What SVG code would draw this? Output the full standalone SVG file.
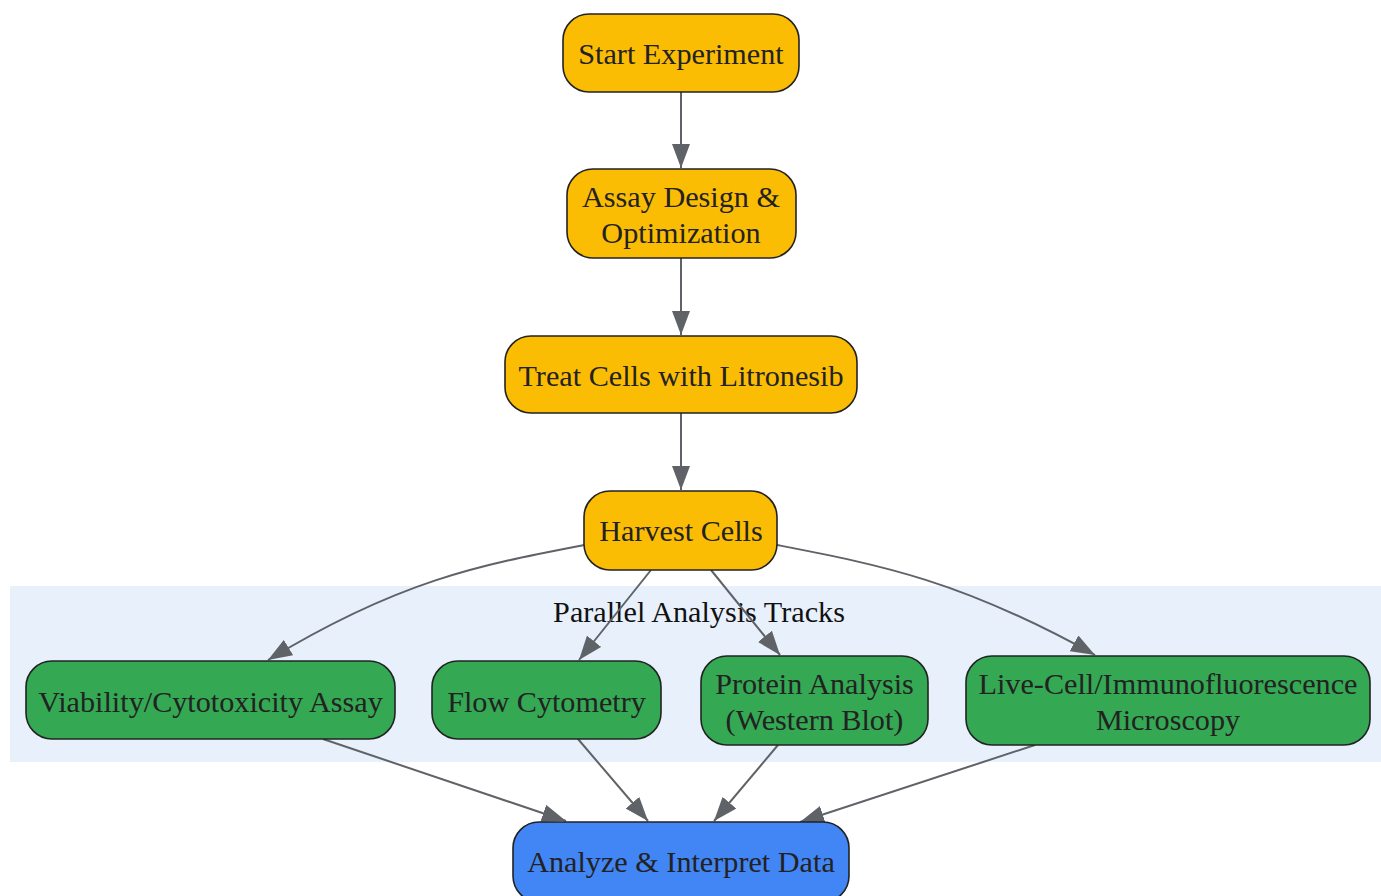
<svg xmlns="http://www.w3.org/2000/svg" width="1381" height="896" viewBox="0 0 1381 896">
<style>
.node rect{stroke:#222;stroke-width:1.6}
.y rect{fill:#fbbc04}
.g rect{fill:#34a853}
.b rect{fill:#4285f4}
text{font-family:"Liberation Serif","Times New Roman",serif;font-size:30.2px;fill:#222;text-anchor:middle}
.edges path{fill:none;stroke:#5f6368;stroke-width:2}
</style>
<defs>
<marker id="arr" viewBox="0 0 24 18" refX="24" refY="9" markerWidth="24" markerHeight="18" markerUnits="userSpaceOnUse" orient="auto">
<path d="M0,0 L24,9 L0,18 z" fill="#5f6368"/>
</marker>
</defs>
<rect width="1381" height="896" fill="#fff"/>
<g id="cluster">
<rect x="10" y="586" width="1371" height="176" fill="#e8f0fc"/>
<text x="699" y="622" style="fill:#111">Parallel Analysis Tracks</text>
</g>
<g class="edges">
<path d="M681,92 L681,168" marker-end="url(#arr)"/>
<path d="M681,258 L681,335" marker-end="url(#arr)"/>
<path d="M681,413 L681,490" marker-end="url(#arr)"/>
<path d="M584,545 C480,565 400,580 268,660" marker-end="url(#arr)"/>
<path d="M651,570 L579,660" marker-end="url(#arr)"/>
<path d="M711,570 L780,655" marker-end="url(#arr)"/>
<path d="M777,545 C880,565 960,580 1095,655" marker-end="url(#arr)"/>
<path d="M323,739 L566,821" marker-end="url(#arr)"/>
<path d="M578,739 L648,821" marker-end="url(#arr)"/>
<path d="M778,745 L714,821" marker-end="url(#arr)"/>
<path d="M1035,745 L800,822" marker-end="url(#arr)"/>
</g>
<g id="start" class="node y"><rect x="563" y="14" width="236" height="78" rx="26"/><text x="681" y="64">Start Experiment</text></g>
<g id="assay" class="node y"><rect x="567" y="169" width="229" height="89" rx="26"/><text x="681" y="207">Assay Design &amp;</text><text x="681" y="243">Optimization</text></g>
<g id="treat" class="node y"><rect x="505" y="336" width="352" height="77" rx="26"/><text x="681" y="386">Treat Cells with Litronesib</text></g>
<g id="harvest" class="node y"><rect x="584" y="491" width="193" height="79" rx="26"/><text x="681" y="541">Harvest Cells</text></g>
<g id="viability" class="node g"><rect x="26" y="661" width="369" height="78" rx="26"/><text x="210.5" y="712">Viability/Cytotoxicity Assay</text></g>
<g id="flow" class="node g"><rect x="432" y="661" width="229" height="78" rx="26"/><text x="546.5" y="712">Flow Cytometry</text></g>
<g id="protein" class="node g"><rect x="701" y="656" width="227" height="89" rx="26"/><text x="814.5" y="694">Protein Analysis</text><text x="814.5" y="730">(Western Blot)</text></g>
<g id="live" class="node g"><rect x="966" y="656" width="404" height="89" rx="26"/><text x="1168" y="694">Live-Cell/Immunofluorescence</text><text x="1168" y="730">Microscopy</text></g>
<g id="analyze" class="node b"><rect x="513" y="822" width="336" height="80" rx="26"/><text x="681" y="872">Analyze &amp; Interpret Data</text></g>
</svg>
